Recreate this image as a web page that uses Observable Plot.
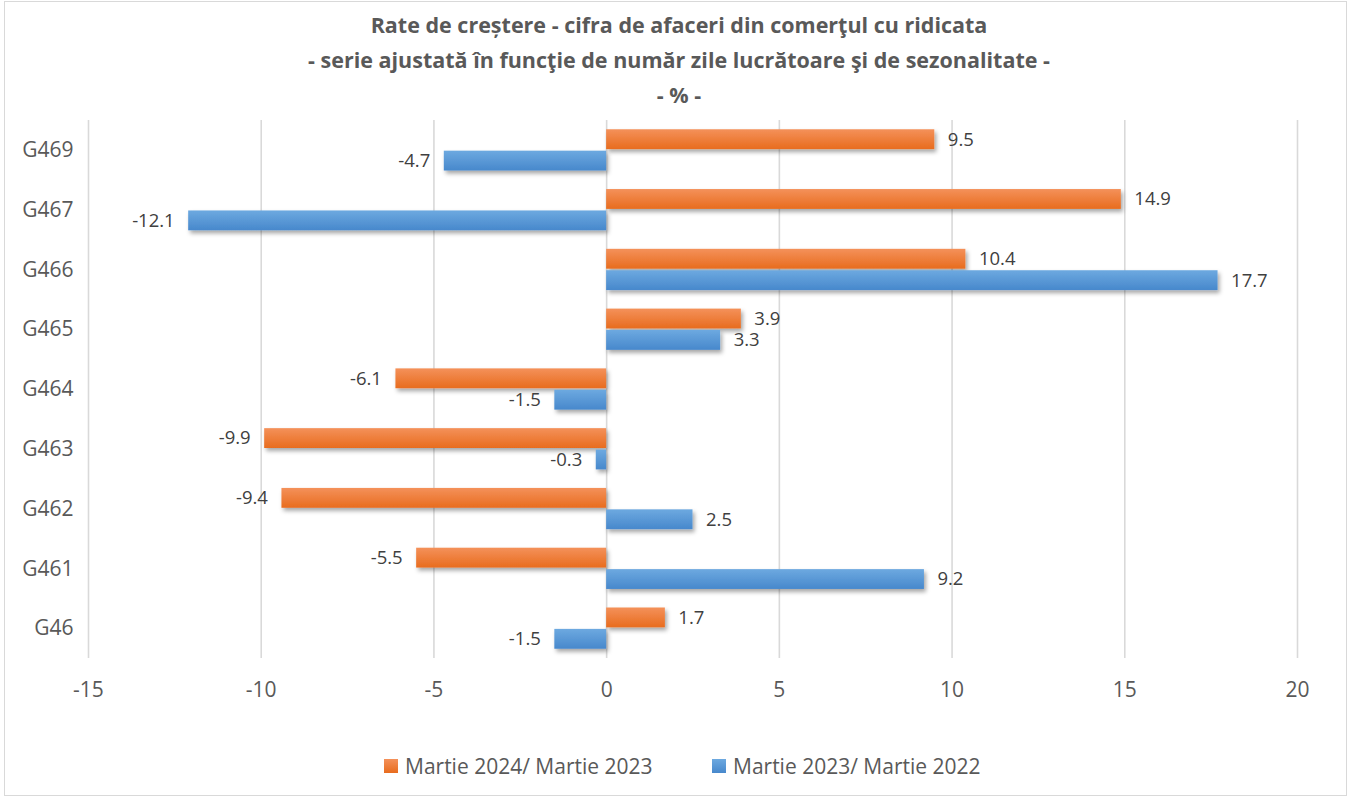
<!DOCTYPE html>
<html>
<head>
<meta charset="utf-8">
<script src="https://cdn.jsdelivr.net/npm/d3@7"></script>
<script src="https://cdn.jsdelivr.net/npm/@observablehq/plot@0.6"></script>
<style>
  html, body { margin: 0; padding: 0; background: #fff; }
  #wrap { position: relative; width: 1352px; height: 800px; overflow: hidden; font-family: "Open Sans", sans-serif; }
  #frame { position: absolute; left: 4px; top: 1px; width: 1343px; height: 795px; border: 1px solid #d9d9d9; box-sizing: border-box; }
  #title { position: absolute; left: 0; top: 7px; width: 1358px; text-align: center; color: #595959; font-weight: bold; font-size: 21.5px; line-height: 35px; }
  #chart { position: absolute; left: 0; top: 110px; }
  #legend { position: absolute; top: 752px; left: 0; width: 1352px; height: 28px; color: #595959; font-size: 21px; }
  .lg { position: absolute; display: flex; align-items: center; height: 28px; }
  .sw { width: 14px; height: 14px; margin-right: 7px; }
</style>
</head>
<body>
<div id="wrap">
  <div id="frame"></div>
  <div id="title"></div>
  <div id="chart"></div>
  <div id="legend"></div>
</div>
<script>
const titleLines = [
  "Rate de creștere - cifra de afaceri din comerţul cu ridicata",
  "- serie ajustată în funcţie de număr zile lucrătoare şi de sezonalitate -",
  "- % -"
];
const categories = ["G469", "G467", "G466", "G465", "G464", "G463", "G462", "G461", "G46"];
const seriesNames = ["Martie 2024/ Martie 2023", "Martie 2023/ Martie 2022"];
const values2024 = [9.5, 14.9, 10.4, 3.9, -6.1, -9.9, -9.4, -5.5, 1.7];
const values2023 = [-4.7, -12.1, 17.7, 3.3, -1.5, -0.3, 2.5, 9.2, -1.5];
const xTicks = [-15, -10, -5, 0, 5, 10, 15, 20];

document.getElementById("title").innerHTML = titleLines.map(t => `<div>${t}</div>`).join("");

const dA = categories.map((c, i) => ({cat: c, v: values2024[i]}));
const dB = categories.map((c, i) => ({cat: c, v: values2023[i]}));

const fmt = v => v.toFixed(1);
const labelFont = 18.5;
const labelColor = "#404040";
const half = 10.7;

function labels(data, dy) {
  return [
    Plot.text(data.filter(d => d.v >= 0), {x: "v", y: "cat", text: d => fmt(d.v), textAnchor: "start", dx: 13, dy, fontSize: labelFont, fill: labelColor}),
    Plot.text(data.filter(d => d.v < 0), {x: "v", y: "cat", text: d => fmt(d.v), textAnchor: "end", dx: -14, dy, fontSize: labelFont, fill: labelColor})
  ];
}

const chart = Plot.plot({
  width: 1352,
  height: 610,
  marginLeft: 88,
  marginRight: 55,
  marginTop: 10,
  marginBottom: 62,
  style: {fontFamily: "Open Sans, sans-serif", color: "#595959", background: "transparent"},
  x: {domain: [-15, 20]},
  y: {domain: categories, paddingInner: 0.31, paddingOuter: 0.155, round: false},
  marks: [
    Plot.gridX(xTicks, {stroke: "#d9d9d9", strokeOpacity: 1, strokeWidth: 1.6}),
    Plot.axisX({ticks: xTicks, tickSize: 0, tickPadding: 24, fontSize: 21, fill: "#595959", label: null, tickFormat: d => String(d)}),
    Plot.axisY({tickSize: 0, tickPadding: 15, fontSize: 21, fill: "#595959", label: null}),
    Plot.barX(dA, {x: "v", y: "cat", fill: "url(#gradOrange)", insetBottom: 21.4, className: "shadowed"}),
    Plot.barX(dB, {x: "v", y: "cat", fill: "url(#gradBlue)", insetTop: 21.4, className: "shadowed"}),
    ...labels(dA, -half),
    ...labels(dB, half)
  ]
});

const svg = d3.select(chart);
const defs = svg.insert("defs", ":first-child");
function grad(id, top, bottom) {
  const g = defs.append("linearGradient").attr("id", id).attr("x1", 0).attr("y1", 0).attr("x2", 0).attr("y2", 1);
  g.append("stop").attr("offset", "0%").attr("stop-color", top);
  g.append("stop").attr("offset", "100%").attr("stop-color", bottom);
}
grad("gradOrange", "#F4915A", "#E86C1E");
grad("gradBlue", "#6DA9E0", "#4788CC");
const f = defs.append("filter").attr("id", "shadow").attr("x", "-10%").attr("y", "-50%").attr("width", "130%").attr("height", "250%");
f.append("feDropShadow").attr("dx", 2).attr("dy", 3).attr("stdDeviation", 2).attr("flood-color", "#000").attr("flood-opacity", 0.35);
svg.selectAll("g.shadowed").attr("filter", "url(#shadow)");

document.getElementById("chart").appendChild(chart);

const legend = document.getElementById("legend");
const legendColors = ["linear-gradient(#F4915A,#E86C1E)", "linear-gradient(#6DA9E0,#4788CC)"];
const legendLefts = [384, 712];
seriesNames.forEach((n, i) => {
  const el = document.createElement("div");
  el.className = "lg";
  el.style.left = legendLefts[i] + "px";
  el.innerHTML = `<div class="sw" style="background:${legendColors[i]}"></div><span>${n}</span>`;
  legend.appendChild(el);
});
</script>
</body>
</html>
